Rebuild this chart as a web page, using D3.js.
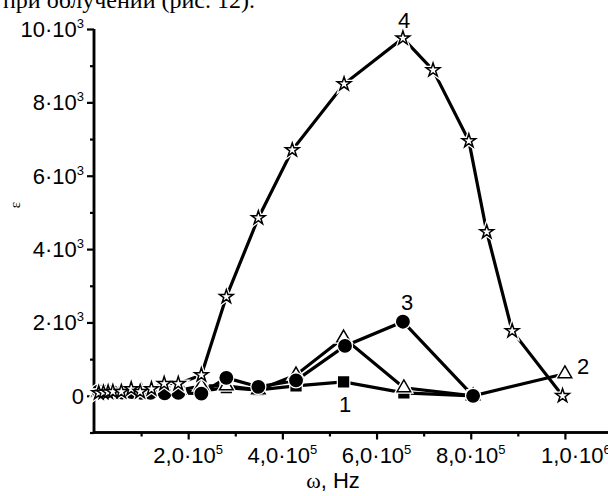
<html>
    <head>
        <script src="https://d3js.org/d3.v7.min.js"></script>
        <style>
            body{ margin:0; background:#fff; }
            text{ font-family:"Liberation Sans", Arial, sans-serif; fill:#000; }
        </style>
    </head>
    <body>
        <svg id="svg" width="608" height="496"></svg>
        <script>
            // frequencies in units of 1e6 Hz, permittivity values
            var freq1 = [0.01,0.02,0.03,0.04,0.06,0.08,0.10,0.12,0.15,0.18,0.228,0.281,0.349,0.429,0.53,0.658,0.805];
            var eps1  = [90,100,90,100,110,120,100,110,110,120,130,220,160,270,380,80,0];

            var freq2 = [0.01,0.02,0.03,0.04,0.06,0.08,0.10,0.12,0.15,0.18,0.228,0.281,0.349,0.429,0.53,0.658,0.805,1.0];
            var eps2  = [110,120,110,120,100,110,130,120,140,150,270,270,160,570,1580,220,0,600];

            var freq3 = [0.01,0.02,0.03,0.04,0.06,0.08,0.10,0.12,0.15,0.179,0.228,0.281,0.349,0.429,0.533,0.656,0.805];
            var eps3  = [120,120,110,100,90,100,80,80,70,80,60,490,245,420,1360,2020,0];

            var freq4 = [0.01,0.02,0.03,0.04,0.058,0.079,0.098,0.122,0.149,0.179,0.228,0.281,0.349,0.421,0.531,0.656,0.72,0.796,0.834,0.888,0.995];
            var eps4  = [80,90,100,110,110,190,110,190,330,330,570,2700,4850,6700,8500,9750,8880,6950,4470,1770,0];

            var xMajor = [0.2,0.4,0.6,0.8,1.0];
            var xMinor = [0.1,0.3,0.5,0.7,0.9];
            var xLabels = [["2,0·10","5"],["4,0·10","5"],["6,0·10","5"],["8,0·10","5"],["1,0·10","6"]];
            var yMajor = [0,2000,4000,6000,8000,10000];
            var yMinor = [-1000,1000,3000,5000,7000,9000];
            var yLabels = [["0",""],["2·10","3"],["4·10","3"],["6·10","3"],["8·10","3"],["10·10","3"]];

            var svg = d3.select("svg");
            var x = d3.scaleLinear().domain([0,1.1]).range([94,612]);
            var y = d3.scaleLinear().domain([-1000,10000]).range([432.5,29]);

            // fragment of the page text above the figure
            svg.append("text").attr("x",3).attr("y",8)
                .style("font-family","'Liberation Serif', 'Times New Roman', serif").style("font-size","24px")
                .text("при облучении (рис. 12).");

            var gx = svg.append("g").attr("transform","translate(0,"+y(-1000)+")");
            gx.call(d3.axisBottom(x).tickValues(xMajor).tickSize(7).tickFormat(""));
            gx.call(g => g.append("g").call(d3.axisBottom(x).tickValues(xMinor).tickSize(4).tickFormat("")));
            var gy = svg.append("g").attr("transform","translate("+x(0)+",0)");
            gy.call(d3.axisLeft(y).tickValues(yMajor).tickSize(7).tickFormat(""));
            gy.call(g => g.append("g").call(d3.axisLeft(y).tickValues(yMinor).tickSize(4).tickFormat("")));
            svg.selectAll(".domain").attr("stroke","#000").attr("stroke-width",2.5);
            gx.selectAll(".domain").attr("d","M"+(x(0)-1)+",0H612");
            gy.selectAll(".domain").attr("d","M0,"+y(-1000)+"V"+y(10000));
            svg.selectAll(".tick line").attr("stroke","#000").attr("stroke-width",2.2);

            function sup(t, base, s){
                t.append("tspan").text(base);
                if(s) t.append("tspan").attr("dy",-9).style("font-size","13px").text(s);
            }
            xMajor.forEach(function(v,i){
                // last label sits a little right of its tick in the original
                var t = svg.append("text").attr("x",x(v) + (i == xMajor.length-1 ? 11 : 0)).attr("y",463)
                    .attr("text-anchor","middle").style("font-size","22px");
                sup(t, xLabels[i][0], xLabels[i][1]);
            });
            yMajor.forEach(function(v,i){
                var t = svg.append("text").attr("x",84).attr("y",y(v)+8)
                    .attr("text-anchor","end").style("font-size","22px");
                sup(t, yLabels[i][0], yLabels[i][1]);
            });

            var xt = svg.append("text").attr("x",333).attr("y",488).attr("text-anchor","middle").style("font-size","22px");
            xt.append("tspan").style("font-family","'Liberation Serif', serif").text("ω");
            xt.append("tspan").text(", Hz");
            svg.append("text").attr("transform","translate(20,205) rotate(-90)")
                .attr("text-anchor","middle")
                .style("font-family","'Liberation Serif', serif").style("font-size","15px").text("ε");

            var series = [
                {f:freq1, e:eps1, type:d3.symbolSquare, size:95, fill:"#000"},
                {f:freq2, e:eps2, type:d3.symbolTriangle, size:80, fill:"#fff"},
                {f:freq3, e:eps3, type:d3.symbolCircle, size:120, fill:"#000"},
                {f:freq4, e:eps4, type:d3.symbolStar, size:58, fill:"#fff"}
            ];
            var line = d3.line().x(d => x(d[0])).y(d => y(d[1]));

            series.forEach(function(s){
                var pts = s.f.map((v,i) => [v, s.e[i]]);
                svg.append("path").attr("d", line(pts))
                    .attr("fill","none").attr("stroke","#000").attr("stroke-width",3.2);
            });
            series.forEach(function(s){
                var pts = s.f.map((v,i) => [v, s.e[i]]);
                var sym = d3.symbol().type(s.type).size(s.size);
                var g = svg.append("g");
                g.selectAll(".halo").data(pts).enter().append("path")
                    .attr("transform", d => "translate("+x(d[0])+","+y(d[1])+")")
                    .attr("d", sym).attr("fill","#fff").attr("stroke","#fff").attr("stroke-width",4);
                g.selectAll(".mk").data(pts).enter().append("path")
                    .attr("transform", d => "translate("+x(d[0])+","+y(d[1])+")")
                    .attr("d", sym).attr("fill", s.fill).attr("stroke","#000").attr("stroke-width",1.5);
            });

            var labels = [["1",345,412],["2",583,374],["3",407,310],["4",404,28]];
            labels.forEach(function(l){
                svg.append("text").attr("x",l[1]).attr("y",l[2]).attr("text-anchor","middle")
                    .style("font-size","22px").text(l[0]);
            });
        </script>
    </body>
</html>
